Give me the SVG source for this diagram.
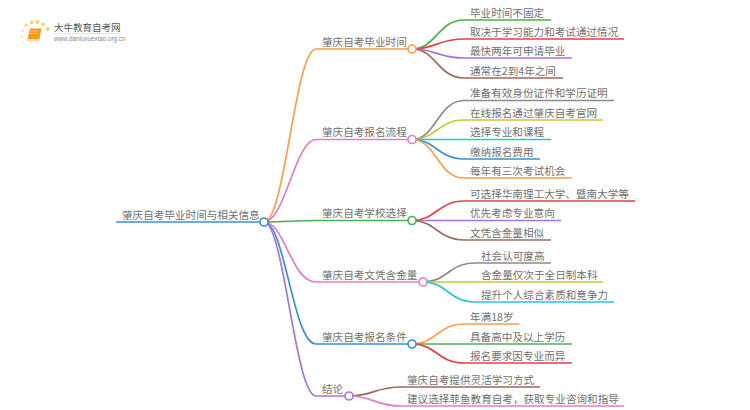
<svg xmlns="http://www.w3.org/2000/svg" width="750" height="410" viewBox="0 0 750 410">
<style>
text{font-family:"Noto Sans CJK SC","Noto Sans",sans-serif;font-size:10.6px;fill:#707070}
.c path{fill:none;stroke-width:1.7}
circle.n{fill:#fff;stroke-width:1.6}
.o{stroke:#ff9f4a}.p{stroke:#e87cc6}.g{stroke:#4caf50}.b{stroke:#3b8fd0}.v{stroke:#a974d8}
.t{stroke:#26c6da}.r{stroke:#e5404c}.w{stroke:#9b6a5e}.y{stroke:#8c8c8c}.l{stroke:#c9c930}
</style>
<rect width="750" height="410" fill="#fff"/>
<g id="logo">
<g fill="#fbd27a">
<circle cx="26" cy="25" r="1.8"/><circle cx="31.500" cy="22.500" r="1.900"/><circle cx="37.500" cy="22" r="1.900"/><circle cx="43" cy="24.500" r="1.900"/><circle cx="47.500" cy="29" r="2.100"/>
<circle cx="22.500" cy="31" r="1.300" opacity=".7"/><circle cx="21.500" cy="37" r="1.200" opacity=".6"/><circle cx="23.500" cy="42.500" r="1" opacity=".5"/>
</g>
<path d="M30 28.500h11.500l-2.500 12.500h-12z" fill="#f79a1e"/>
<path d="M27 41h12l.6-2h-12z" fill="#ffd9a0"/>
<path d="M30 31h8M29.500 33.500h8" stroke="#ffd08a" stroke-width=".8" fill="none"/>
<text x="54" y="31" style="font-size:9.500px;fill:#555">大牛教育自考网</text>
<path d="M54 33.500h66" stroke="#ddd" stroke-width=".8"/>
<text x="54" y="41" style="font-size:6.300px;fill:#8a8a8a;font-family:'Liberation Sans',sans-serif">www.daniuxuexiao.org.cn</text>
</g>
<g id="connectors" class="c">
<path class="b" d="M116 222H264"/>
<path class="o" d="M264 222C285 222 295 49 316 49H412"/>
<path class="p" d="M264 222C285 222 295 139.500 316 139.500H412"/>
<path class="g" d="M264 222C285 222 295 220.500 316 220.500H412"/>
<path class="p" d="M264 222C285 222 291 282 316 282H423"/>
<path class="b" d="M264 222C285 222 293 344 316 344H412"/>
<path class="v" d="M264 222C284 222 295 396 316 396H349"/>
<path class="g" d="M412 49C436 49 438 20 464 20H551"/>
<path class="r" d="M412 49C436 49 438 39 464 39H624"/>
<path class="v" d="M412 49C436 49 438 58 464 58H572"/>
<path class="w" d="M412 49C436 49 438 78 464 78H563"/>
<path class="y" d="M412 139.500C436 139.500 438 100.500 464 100.500H614"/>
<path class="l" d="M412 139.500C436 139.500 438 120 464 120H603"/>
<path class="t" d="M412 139.500C436 139.500 438 139.500 464 139.500H551"/>
<path class="b" d="M412 139.500C436 139.500 438 159 464 159H540"/>
<path class="o" d="M412 139.500C436 139.500 438 178 464 178H572"/>
<path class="r" d="M412 220.500C436 220.500 438 201 464 201H635"/>
<path class="v" d="M412 220.500C436 220.500 438 220.500 464 220.500H561"/>
<path class="w" d="M412 220.500C436 220.500 438 240 464 240H551"/>
<path class="y" d="M423 282C447 282 449 263 475 263H551"/>
<path class="l" d="M423 282C447 282 449 282 475 282H603"/>
<path class="t" d="M423 282C447 282 449 302 475 302H614"/>
<path class="o" d="M412 344C436 344 438 324 464 324H519"/>
<path class="g" d="M412 344C436 344 438 344 464 344H572"/>
<path class="r" d="M412 344C436 344 438 363 464 363H572"/>
<path class="w" d="M349 396C373 396 375 387 401 387H540"/>
<path class="p" d="M349 396C373 396 375 406 401 406H624"/>
</g>
<g id="root"><text x="122" y="218.500">肇庆自考毕业时间与相关信息</text><circle class="n b" cx="264" cy="222" r="4"/></g>
<g id="n1"><text x="322" y="45.500">肇庆自考毕业时间</text><circle class="n o" cx="412" cy="49" r="4"/></g>
<g id="n2"><text x="322" y="136">肇庆自考报名流程</text><circle class="n p" cx="412" cy="139.500" r="4"/></g>
<g id="n3"><text x="322" y="217">肇庆自考学校选择</text><circle class="n g" cx="412" cy="220.500" r="4"/></g>
<g id="n4"><text x="322" y="278.500">肇庆自考文凭含金量</text><circle class="n p" cx="423" cy="282" r="4"/></g>
<g id="n5"><text x="322" y="340.500">肇庆自考报名条件</text><circle class="n b" cx="412" cy="344" r="4"/></g>
<g id="n6"><text x="322" y="392.500">结论</text><circle class="n v" cx="349" cy="396" r="4"/></g>
<g id="n1-1"><text x="470" y="16.500">毕业时间不固定</text></g>
<g id="n1-2"><text x="470" y="35.500">取决于学习能力和考试通过情况</text></g>
<g id="n1-3"><text x="470" y="54.500">最快两年可申请毕业</text></g>
<g id="n1-4"><text x="470" y="74.500">通常在2到4年之间</text></g>
<g id="n2-1"><text x="470" y="97">准备有效身份证件和学历证明</text></g>
<g id="n2-2"><text x="470" y="116.500">在线报名通过肇庆自考官网</text></g>
<g id="n2-3"><text x="470" y="136">选择专业和课程</text></g>
<g id="n2-4"><text x="470" y="155.500">缴纳报名费用</text></g>
<g id="n2-5"><text x="470" y="174.500">每年有三次考试机会</text></g>
<g id="n3-1"><text x="470" y="197.500">可选择华南理工大学、暨南大学等</text></g>
<g id="n3-2"><text x="470" y="217">优先考虑专业意向</text></g>
<g id="n3-3"><text x="470" y="236.500">文凭含金量相似</text></g>
<g id="n4-1"><text x="481" y="259.500">社会认可度高</text></g>
<g id="n4-2"><text x="481" y="278.500">含金量仅次于全日制本科</text></g>
<g id="n4-3"><text x="481" y="298.500">提升个人综合素质和竞争力</text></g>
<g id="n5-1"><text x="470" y="320.500">年满18岁</text></g>
<g id="n5-2"><text x="470" y="340.500">具备高中及以上学历</text></g>
<g id="n5-3"><text x="470" y="359.500">报名要求因专业而异</text></g>
<g id="n6-1"><text x="407" y="383.500">肇庆自考提供灵活学习方式</text></g>
<g id="n6-2"><text x="407" y="402.500">建议选择菲鱼教育自考，获取专业咨询和指导</text></g>
</svg>
